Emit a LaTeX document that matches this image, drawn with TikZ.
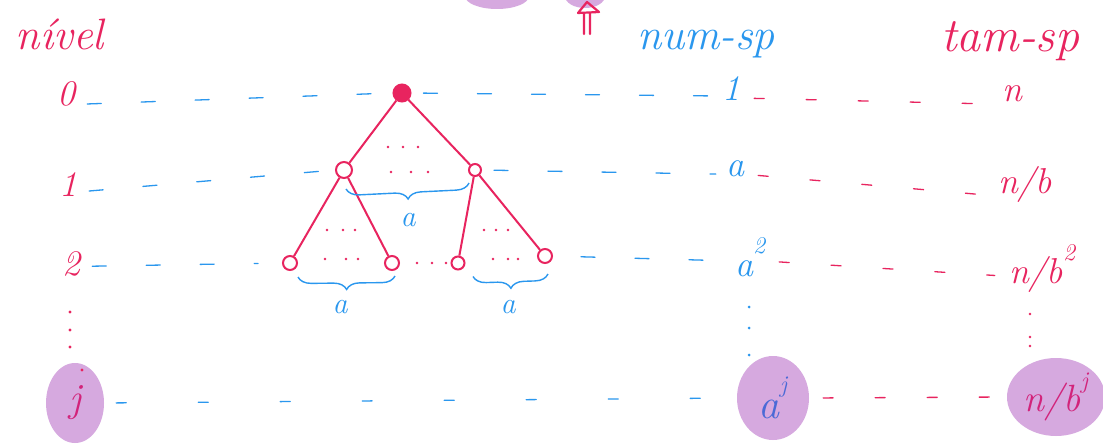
\documentclass[tikz,border=0pt]{standalone}
\usetikzlibrary{decorations.pathreplacing,shapes.geometric}
\definecolor{pk}{HTML}{E8245F}
\definecolor{bl}{HTML}{2A97EE}
\definecolor{pu}{HTML}{D6A9DF}
\definecolor{dbl}{HTML}{4A6AD6}
\definecolor{dpk}{HTML}{D2237A}
\newcommand{\supx}[1]{\raisebox{0.62em}{\fontsize{24}{24}\selectfont #1}}
\begin{document}
\begin{tikzpicture}[x=1pt,y=-1pt,
  hdr/.style={font=\fontsize{44}{44}\selectfont\itshape, inner sep=0pt, anchor=base},
  lbl/.style={font=\fontsize{36}{36}\selectfont\itshape, inner sep=0pt, anchor=base},
  blob/.style={ellipse, fill=pu, inner sep=0pt},
  tnode/.style={circle, draw=pk, line width=2pt, inner sep=0pt},
  edge/.style={pk, line width=2pt},
  bdash/.style={bl, line width=1.3pt, line cap=round, dash pattern=on 14pt off 40pt, shorten <=12pt, shorten >=10pt},
  pdash/.style={pk, line width=1.3pt, line cap=round, dash pattern=on 10pt off 42pt, shorten <=14pt, shorten >=14pt},
  brc/.style={bl, line width=1.4pt, decorate, decoration={brace, mirror, amplitude=13pt}},
  dot/.style={pk}
]
\useasboundingbox (0,0) rectangle (1103,444);
\clip (0,0) rectangle (1103,444);
\fill[white] (0,0) rectangle (1103,444);

% top blobs and arrow
\fill[pu] (497,-4) ellipse (32 and 13);
\fill[pu] (585,-4) ellipse (20 and 12);
\draw[pk, line width=2.2pt, line cap=round, line join=round]
  (584,34) -- (584,13) (590,34) -- (590,13)
  (578,13) -- (587,2) -- (599,12) -- cycle;

% headers
\node[hdr, pk] (nivel) at (60,50) {nível};
\node[hdr, bl] (numsp) at (706,50) {num-sp};
\node[hdr, pk, font=\fontsize{48}{48}\selectfont\itshape] (tamsp) at (1010,52) {tam-sp};

% level labels
\node[lbl, pk] (l0) at (66,106) {0};
\node[lbl, pk] (l1) at (68,196) {1};
\node[lbl, pk] (l2) at (71,275) {2};
\node[blob, minimum width=58pt, minimum height=80pt, text=dpk,
      font=\fontsize{40}{40}\selectfont\itshape] (lj) at (75,403) {j};

% num-sp column
\node[lbl, bl] (v0) at (731,100) {1};
\node[lbl, bl] (v1) at (735,176) {a};
\node[lbl, bl] (v2) at (750,276) {a\supx{2}};
\node[blob, minimum width=72pt, minimum height=84pt, text=dbl,
      font=\fontsize{42}{42}\selectfont\itshape] (vj) at (773,398) {a\supx{j}};

% tam-sp column
\node[lbl, pk] (t0) at (1012,102) {n};
\node[lbl, pk] (t1) at (1025,193) {n/b};
\node[lbl, pk] (t2) at (1042,283) {n/b\supx{2}};
\node[blob, minimum width=98pt, minimum height=78pt, text=dpk,
      font=\fontsize{38}{38}\selectfont\itshape] (tj) at (1056,397) {n/b\supx{j}};

% tree
\node[tnode, fill=pk, minimum size=17pt] (root) at (402,93) {};
\node[tnode, minimum size=16pt] (n1l) at (344,170) {};
\node[tnode, minimum size=12pt] (n1r) at (475,170) {};
\node[tnode, minimum size=14pt] (n2a) at (290,263) {};
\node[tnode, minimum size=14pt] (n2b) at (392,263) {};
\node[tnode, minimum size=13pt] (n2c) at (458,263) {};
\node[tnode, minimum size=14pt] (n2d) at (545,256) {};
\draw[edge] (root) -- (n1l);
\draw[edge] (root) -- (n1r);
\draw[edge] (n1l) -- (n2a);
\draw[edge] (n1l) -- (n2b);
\draw[edge] (n1r) -- (n2c);
\draw[edge] (n1r) -- (n2d);

% dots in tree
\foreach \x in {388,403,418} \fill[dot] (\x,147) circle (1.4);
\foreach \x in {391,411,428} \fill[dot] (\x,172) circle (1.4);
\foreach \x in {327,343,355} \fill[dot] (\x,230) circle (1.4);
\foreach \x in {325,346,358} \fill[dot] (\x,259) circle (1.4);
\foreach \x in {417,432,446} \fill[dot] (\x,263) circle (1.4);
\foreach \x in {484,496,508} \fill[dot] (\x,230) circle (1.4);
\foreach \x in {493,508,518} \fill[dot] (\x,259) circle (1.4);

% vertical dots
\foreach \y in {312,330,347} \fill[pk] (70,\y) circle (1.6);
\fill[pk] (82,370) circle (1.6);
\foreach \y in {307,328,355} \fill[bl] (749,\y) circle (1.5);
\foreach \y in {314,337,346} \fill[pk] (1030,\y) circle (1.4);

% braces and labels
\node[lbl, bl, font=\fontsize{30}{30}\selectfont\itshape] (a1) at (408,226) {a};
\node[lbl, bl, font=\fontsize{30}{30}\selectfont\itshape] (a2) at (340,313) {a};
\node[lbl, bl, font=\fontsize{30}{30}\selectfont\itshape] (a3) at (508,313) {a};
\draw[brc] ([xshift=2pt,yshift=-10pt]n1l.south) -- ([xshift=-6pt,yshift=-6pt]n1r.south);
\draw[brc] ([xshift=8pt,yshift=-6pt]n2a.south) -- ([xshift=3pt,yshift=-5pt]n2b.south);
\draw[brc] ([xshift=15pt,yshift=-6pt]n2c.south) -- ([xshift=3pt,yshift=-10pt]n2d.south);

% dashed row lines
\draw[bdash] ([yshift=-10pt]l0.east) -- (root.west);
\draw[bdash] (root.east) -- ([yshift=-8pt]v0.west);
\draw[pdash] ([yshift=-10pt]v0.east) -- ([yshift=-10pt]t0.west);
\draw[bdash] ([yshift=-8pt]l1.east) -- (n1l.west);
\draw[bdash] (n1r.east) -- ([yshift=-6pt]v1.west);
\draw[pdash] ([yshift=-6pt]v1.east) -- ([yshift=-12pt]t1.west);
\draw[bdash, shorten >=24pt] ([yshift=-3pt]l2.east) -- (n2a.west);
\draw[bdash, shorten <=28pt] (n2d.east) -- ([yshift=-4pt]v2.west);
\draw[pdash] ([yshift=-4pt]v2.east) -- ([yshift=-8pt]t2.west);
\draw[bdash, dash pattern=on 10pt off 72pt] (lj.east) -- (vj.west);
\draw[pdash] (vj.east) -- (tj.west);
\end{tikzpicture}
\end{document}
